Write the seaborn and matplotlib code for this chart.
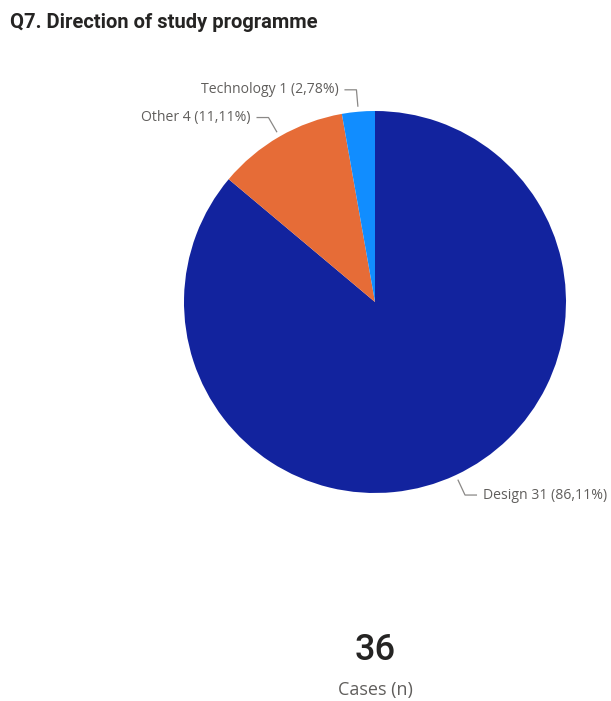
import numpy as np
import matplotlib
matplotlib.use("Agg")
import matplotlib.pyplot as plt
import seaborn as sns

# Survey answers: direction of study programme
categories = ["Design", "Other", "Technology"]
counts = [31, 4, 1]
shares = ["86,11%", "11,11%", "2,78%"]
total_cases = 36

sns.set_theme(style="white")
plt.rcParams["font.family"] = ["Open Sans", "DejaVu Sans"]

colors = ["#12239E", "#E66C37", "#118DFF"]

W, H = 611, 701
fig = plt.figure(figsize=(W / 100, H / 100), dpi=100)
ax = fig.add_axes([0, 0, 1, 1])

cx, cy, r = 375, H - 302, 191
wedges, _ = ax.pie(counts, colors=colors, startangle=90, counterclock=False,
                   center=(cx, cy), radius=r, frame=True,
                   wedgeprops=dict(linewidth=0))
ax.set_xlim(0, W)
ax.set_ylim(0, H)
ax.set_aspect("equal")
ax.axis("off")

label_color = "#605E5C"
line_color = "#8A8886"
for w, cat, n, pct in zip(wedges, categories, counts, shares):
    mid = np.deg2rad((w.theta1 + w.theta2) / 2)
    ux, uy = np.cos(mid), np.sin(mid)
    sx, sy = cx + (r + 5) * ux, cy + (r + 5) * uy
    ex, ey = cx + (r + 22) * ux, cy + (r + 22) * uy
    side = 1 if ux > 0.05 else -1
    hx = ex + side * 12
    ax.plot([sx, ex, hx], [sy, ey, ey], color=line_color, lw=0.9,
            solid_capstyle="butt")
    ax.text(hx + side * 6, ey, f"{cat} {n} ({pct})", ha="left" if side > 0 else "right",
            va="center", fontsize=10.1, color=label_color)

fig.text(10 / W, 1 - 22 / H, "Q7. Direction of study programme", ha="left", va="center",
         fontsize=14.5, fontweight="bold", color="#252423",
         family=["Roboto", "DejaVu Sans"])
fig.text(cx / W, 1 - 650 / H, str(total_cases), ha="center", va="center",
         fontsize=26, fontweight="medium", color="#252423", family=["Roboto", "DejaVu Sans"])
fig.text(cx / W, 1 - 690 / H, "Cases (n)", ha="center", va="center",
         fontsize=13, color=label_color)

fig.savefig("out.png", dpi=100, facecolor="white")
